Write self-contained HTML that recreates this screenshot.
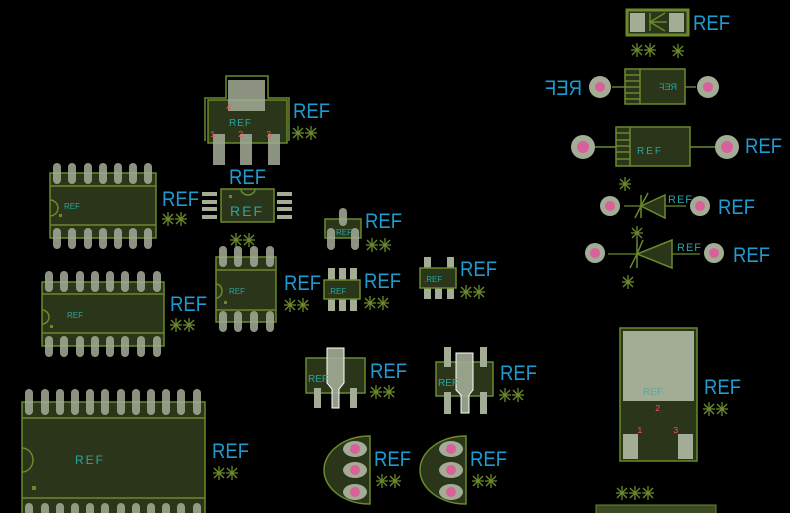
<!DOCTYPE html>
<html><head><meta charset="utf-8"><style>
html,body{margin:0;padding:0;background:#000;}
svg{display:block;}
.r{font-family:"Liberation Sans",sans-serif;font-size:21px;fill:#1e9bd0;}
.t{font-family:"Liberation Sans",sans-serif;fill:#2aa5a0;}
.n{font-family:"Liberation Mono",monospace;font-size:9px;fill:#ff4c5c;}
.b{fill:#2a3519;stroke:#6a8a2c;stroke-width:1.5;}
.o{fill:none;stroke:#6a8a2c;stroke-width:1.5;}
.p{fill:#a3ad96;fill-opacity:0.85;}
.pp{fill:#a3ad96;}
.k{fill:#d9609a;}
</style></head><body>
<svg width="790" height="513" viewBox="0 0 790 513" xmlns="http://www.w3.org/2000/svg">
<defs>
<g id="a" stroke="#6a8a2c" stroke-width="1.3">
<line x1="-6" y1="0" x2="6" y2="0"/><line x1="0" y1="-7" x2="0" y2="7"/>
<line x1="-5" y1="-5" x2="5" y2="5"/><line x1="-5" y1="5" x2="5" y2="-5"/>
</g>
<g id="aa"><use href="#a"/><use href="#a" x="13"/></g>
<rect id="dp" x="-4" y="0" width="8" height="21" rx="4" class="p"/>
<rect id="dq" x="-4" y="0" width="8" height="26" rx="4" class="p"/>
</defs>

<!-- DIP 14 top-left -->
<g>
<rect x="50" y="173" width="106" height="65" class="b"/>
<line x1="50" y1="186" x2="156" y2="186" stroke="#6a8a2c" stroke-width="1.5"/>
<line x1="50" y1="225" x2="156" y2="225" stroke="#6a8a2c" stroke-width="1.5"/>
<path d="M50 200 a8 8 0 0 1 0 16" class="o"/>
<rect x="59" y="214" width="3" height="3" fill="#6a8a2c"/>
<text x="64" y="209" class="t" font-size="8">REF</text>
<use href="#dp" x="57" y="163"/><use href="#dp" x="72" y="163"/><use href="#dp" x="88" y="163"/><use href="#dp" x="103" y="163"/><use href="#dp" x="118" y="163"/><use href="#dp" x="133" y="163"/><use href="#dp" x="148" y="163"/>
<use href="#dp" x="57" y="228"/><use href="#dp" x="72" y="228"/><use href="#dp" x="88" y="228"/><use href="#dp" x="103" y="228"/><use href="#dp" x="118" y="228"/><use href="#dp" x="133" y="228"/><use href="#dp" x="148" y="228"/>
<text x="162" y="206" class="r" textLength="37" lengthAdjust="spacingAndGlyphs">REF</text>
<use href="#aa" x="168" y="219"/>
</g>

<!-- DIP 16 -->
<g>
<rect x="42" y="282" width="122" height="64" class="b"/>
<line x1="42" y1="294" x2="164" y2="294" stroke="#6a8a2c" stroke-width="1.5"/>
<line x1="42" y1="333" x2="164" y2="333" stroke="#6a8a2c" stroke-width="1.5"/>
<path d="M42 310 a7 7 0 0 1 0 14" class="o"/>
<rect x="50" y="325" width="3" height="3" fill="#6a8a2c"/>
<text x="67" y="318" class="t" font-size="8">REF</text>
<use href="#dp" x="49" y="271"/><use href="#dp" x="64" y="271"/><use href="#dp" x="80" y="271"/><use href="#dp" x="95" y="271"/><use href="#dp" x="110" y="271"/><use href="#dp" x="125" y="271"/><use href="#dp" x="141" y="271"/><use href="#dp" x="157" y="271"/>
<use href="#dp" x="49" y="336"/><use href="#dp" x="64" y="336"/><use href="#dp" x="80" y="336"/><use href="#dp" x="95" y="336"/><use href="#dp" x="110" y="336"/><use href="#dp" x="125" y="336"/><use href="#dp" x="141" y="336"/><use href="#dp" x="157" y="336"/>
<text x="170" y="311" class="r" textLength="37" lengthAdjust="spacingAndGlyphs">REF</text>
<use href="#aa" x="176" y="325"/>
</g>

<!-- SOIC 8 -->
<g>
<rect x="221" y="189" width="53" height="33" class="b"/>
<path d="M241 189 a7 6 0 0 0 14 0" class="o"/>
<rect x="229" y="195" width="3" height="3" fill="#6a8a2c"/>
<text x="230" y="216" class="t" font-size="14" letter-spacing="2">REF</text>
<rect x="202" y="192" width="15" height="4" class="pp"/><rect x="202" y="200" width="15" height="4" class="pp"/><rect x="202" y="207" width="15" height="4" class="pp"/><rect x="202" y="215" width="15" height="4" class="pp"/>
<rect x="277" y="192" width="15" height="4" class="pp"/><rect x="277" y="200" width="15" height="4" class="pp"/><rect x="277" y="207" width="15" height="4" class="pp"/><rect x="277" y="215" width="15" height="4" class="pp"/>
<text x="229" y="184" class="r" textLength="37" lengthAdjust="spacingAndGlyphs">REF</text>
<use href="#aa" x="236" y="240"/>
</g>

<!-- DIP 8 -->
<g>
<rect x="216" y="257" width="60" height="65" class="b"/>
<line x1="216" y1="270" x2="276" y2="270" stroke="#6a8a2c" stroke-width="1.5"/>
<line x1="216" y1="310" x2="276" y2="310" stroke="#6a8a2c" stroke-width="1.5"/>
<path d="M216 284 a6 7 0 0 1 0 14" class="o"/>
<rect x="224" y="301" width="3" height="3" fill="#6a8a2c"/>
<text x="229" y="294" class="t" font-size="8">REF</text>
<use href="#dp" x="223" y="246"/><use href="#dp" x="238" y="246"/><use href="#dp" x="254" y="246"/><use href="#dp" x="270" y="246"/>
<use href="#dp" x="223" y="311"/><use href="#dp" x="238" y="311"/><use href="#dp" x="254" y="311"/><use href="#dp" x="270" y="311"/>
<text x="284" y="290" class="r" textLength="37" lengthAdjust="spacingAndGlyphs">REF</text>
<use href="#aa" x="290" y="305"/>
</g>

<!-- SOT-223 -->
<g>
<path d="M205 141 V98 H226 V76 H268 V98 H289 V141" class="o"/>
<rect x="208" y="100" width="79" height="43" class="b"/>
<rect x="228" y="80" width="37" height="31" class="p"/>
<rect x="213" y="134" width="12" height="31" class="p"/><rect x="240" y="134" width="12" height="31" class="p"/><rect x="268" y="134" width="12" height="31" class="p"/>
<text x="229" y="126" class="t" font-size="10" letter-spacing="1">REF</text>
<text x="226" y="110" class="n">4</text><text x="210" y="137" class="n">1</text><text x="238" y="137" class="n">2</text><text x="266" y="137" class="n">3</text>
<text x="293" y="118" class="r" textLength="37" lengthAdjust="spacingAndGlyphs">REF</text>
<use href="#aa" x="298" y="133"/>
</g>

<!-- SOT-23 -->
<g>
<rect x="325" y="219" width="36" height="19" class="b"/>
<rect x="339" y="208" width="8" height="18" rx="4" class="p"/>
<rect x="327" y="228" width="8" height="22" rx="4" class="p"/><rect x="351" y="228" width="8" height="22" rx="4" class="p"/>
<text x="336" y="235" class="t" font-size="8">REF</text>
<text x="365" y="228" class="r" textLength="37" lengthAdjust="spacingAndGlyphs">REF</text>
<use href="#aa" x="372" y="245"/>
</g>

<!-- SOT-23-6 -->
<g>
<rect x="328" y="268" width="7" height="12" class="pp"/><rect x="339" y="268" width="7" height="12" class="pp"/><rect x="350" y="268" width="7" height="12" class="pp"/>
<rect x="328" y="299" width="7" height="12" class="pp"/><rect x="339" y="299" width="7" height="12" class="pp"/><rect x="350" y="299" width="7" height="12" class="pp"/>
<rect x="324" y="280" width="36" height="19" class="b"/>
<text x="328" y="294" class="t" font-size="8">.REF</text>
<text x="364" y="288" class="r" textLength="37" lengthAdjust="spacingAndGlyphs">REF</text>
<use href="#aa" x="370" y="303"/>
</g>

<!-- SOT-23-5 -->
<g>
<rect x="424" y="257" width="7" height="12" class="pp"/><rect x="447" y="257" width="7" height="12" class="pp"/>
<rect x="424" y="288" width="7" height="11" class="pp"/><rect x="435" y="288" width="7" height="11" class="pp"/><rect x="447" y="288" width="7" height="11" class="pp"/>
<rect x="420" y="268" width="36" height="20" class="b"/>
<text x="424" y="282" class="t" font-size="8">.REF</text>
<text x="460" y="276" class="r" textLength="37" lengthAdjust="spacingAndGlyphs">REF</text>
<use href="#aa" x="466" y="292"/>
</g>

<!-- SOT-89 left -->
<g>
<rect x="306" y="358" width="59" height="35" class="b"/>
<rect x="314" y="388" width="7" height="20" class="pp"/><rect x="350" y="388" width="7" height="20" class="pp"/>
<path d="M327 348 H344 V383 L339 389 V408 H332 V389 L327 383 Z" fill="#a3ad96" fill-opacity="0.9" stroke="#fff" stroke-width="1"/>
<text x="308" y="382" class="t" font-size="10">REF</text>
<text x="370" y="378" class="r" textLength="37" lengthAdjust="spacingAndGlyphs">REF</text>
<use href="#aa" x="376" y="392"/>
</g>

<!-- SOT-89 right -->
<g>
<rect x="436" y="362" width="57" height="34" class="b"/>
<rect x="444" y="347" width="7" height="20" class="pp"/><rect x="480" y="347" width="7" height="20" class="pp"/>
<rect x="444" y="392" width="7" height="22" class="pp"/><rect x="480" y="392" width="7" height="22" class="pp"/>
<path d="M456 353 H473 V390 L469 395 V413 H461 V395 L456 390 Z" fill="#a3ad96" fill-opacity="0.9" stroke="#fff" stroke-width="1"/>
<text x="438" y="386" class="t" font-size="10">REF</text>
<text x="500" y="380" class="r" textLength="37" lengthAdjust="spacingAndGlyphs">REF</text>
<use href="#aa" x="505" y="395"/>
</g>

<!-- TO-92 left -->
<g>
<path d="M370 436 A46 34 0 0 0 370 504 Z" class="b"/>
<ellipse cx="355" cy="449" rx="12" ry="8" class="pp"/><circle cx="355" cy="449" r="5" class="k"/>
<ellipse cx="355" cy="470" rx="12" ry="8" class="pp"/><circle cx="355" cy="470" r="5" class="k"/>
<ellipse cx="355" cy="492" rx="12" ry="8" class="pp"/><circle cx="355" cy="492" r="5" class="k"/>
<text x="374" y="466" class="r" textLength="37" lengthAdjust="spacingAndGlyphs">REF</text>
<use href="#aa" x="382" y="481"/>
</g>
<!-- TO-92 right -->
<g>
<path d="M466 436 A46 34 0 0 0 466 504 Z" class="b"/>
<ellipse cx="451" cy="449" rx="12" ry="8" class="pp"/><circle cx="451" cy="449" r="5" class="k"/>
<ellipse cx="451" cy="470" rx="12" ry="8" class="pp"/><circle cx="451" cy="470" r="5" class="k"/>
<ellipse cx="451" cy="492" rx="12" ry="8" class="pp"/><circle cx="451" cy="492" r="5" class="k"/>
<text x="470" y="466" class="r" textLength="37" lengthAdjust="spacingAndGlyphs">REF</text>
<use href="#aa" x="478" y="481"/>
</g>

<!-- big DIP bottom -->
<g>
<rect x="22" y="402" width="183" height="120" class="b"/>
<line x1="22" y1="418" x2="205" y2="418" stroke="#6a8a2c" stroke-width="1.5"/>
<line x1="22" y1="498" x2="205" y2="498" stroke="#6a8a2c" stroke-width="1.5"/>
<path d="M22 448 a11 12 0 0 1 0 24" class="o"/>
<rect x="32" y="486" width="4" height="4" fill="#6a8a2c"/>
<text x="75" y="464" class="t" font-size="12" letter-spacing="2">REF</text>
<use href="#dq" x="29" y="389"/><use href="#dq" x="45" y="389"/><use href="#dq" x="60" y="389"/><use href="#dq" x="75" y="389"/><use href="#dq" x="90" y="389"/><use href="#dq" x="105" y="389"/><use href="#dq" x="121" y="389"/><use href="#dq" x="136" y="389"/><use href="#dq" x="151" y="389"/><use href="#dq" x="166" y="389"/><use href="#dq" x="181" y="389"/><use href="#dq" x="197" y="389"/>
<use href="#dq" x="29" y="503"/><use href="#dq" x="45" y="503"/><use href="#dq" x="60" y="503"/><use href="#dq" x="75" y="503"/><use href="#dq" x="90" y="503"/><use href="#dq" x="105" y="503"/><use href="#dq" x="121" y="503"/><use href="#dq" x="136" y="503"/><use href="#dq" x="151" y="503"/><use href="#dq" x="166" y="503"/><use href="#dq" x="181" y="503"/><use href="#dq" x="197" y="503"/>
<text x="212" y="458" class="r" textLength="37" lengthAdjust="spacingAndGlyphs">REF</text>
<use href="#aa" x="219" y="473"/>
</g>

<!-- top right diode SMD -->
<g>
<rect x="627" y="10" width="61" height="25" fill="#2a3519" stroke="#6a8a2c" stroke-width="3"/>
<rect x="630" y="13" width="15" height="19" class="pp"/><rect x="669" y="13" width="15" height="19" class="pp"/>
<path d="M649 22 H667 M665 13 L650 22 L665 31 M650 13 V31" class="o" stroke-width="1"/>
<text x="693" y="30" class="r" textLength="37" lengthAdjust="spacingAndGlyphs">REF</text>
<use href="#aa" x="637" y="50"/><use href="#a" x="678" y="51"/>
</g>

<!-- mirrored component -->
<g>
<line x1="612" y1="87" x2="625" y2="87" stroke="#4a6020" stroke-width="2"/>
<line x1="685" y1="87" x2="696" y2="87" stroke="#4a6020" stroke-width="2"/>
<rect x="625" y="69" width="60" height="35" class="b"/>
<path d="M640 69 V104 M625 75 H640 M625 81 H640 M625 87 H640 M625 93 H640 M625 99 H640" class="o" stroke-width="1"/>
<circle cx="600" cy="87" r="11" class="pp"/><circle cx="600" cy="87" r="5" class="k"/>
<circle cx="708" cy="87" r="11" class="pp"/><circle cx="708" cy="87" r="5" class="k"/>
<text transform="translate(677,90) scale(-1,1)" class="t" font-size="9">REF</text>
<text transform="translate(582,95) scale(-1,1)" class="r" textLength="37" lengthAdjust="spacingAndGlyphs">REF</text>
</g>

<!-- component 3 -->
<g>
<line x1="595" y1="147" x2="616" y2="147" stroke="#6a8a2c" stroke-width="1.5"/>
<line x1="690" y1="147" x2="716" y2="147" stroke="#6a8a2c" stroke-width="1.5"/>
<rect x="616" y="127" width="74" height="39" class="b"/>
<path d="M630 127 V166 M616 133 H630 M616 140 H630 M616 146 H630 M616 152 H630 M616 159 H630" class="o" stroke-width="1"/>
<circle cx="583" cy="147" r="12" class="pp"/><circle cx="583" cy="147" r="6" class="k"/>
<circle cx="727" cy="147" r="12" class="pp"/><circle cx="727" cy="147" r="6" class="k"/>
<text x="637" y="154" class="t" font-size="10" letter-spacing="2">REF</text>
<text x="745" y="153" class="r" textLength="37" lengthAdjust="spacingAndGlyphs">REF</text>
</g>

<!-- diode small -->
<g>
<line x1="624" y1="206" x2="686" y2="206" stroke="#6a8a2c" stroke-width="1.2"/>
<path d="M665 195 V218 L641 206 Z" class="b" stroke-width="1"/>
<path d="M641 195 V218 M641 206 L648 193 M641 206 L635 218" class="o" stroke-width="1"/>
<circle cx="610" cy="206" r="10" class="pp"/><circle cx="610" cy="206" r="5" class="k"/>
<circle cx="700" cy="206" r="10" class="pp"/><circle cx="700" cy="206" r="5" class="k"/>
<text x="668" y="203" class="t" font-size="11" letter-spacing="1">REF</text>
<text x="718" y="214" class="r" textLength="37" lengthAdjust="spacingAndGlyphs">REF</text>
<use href="#a" x="625" y="184"/>
</g>

<!-- diode big -->
<g>
<line x1="608" y1="254" x2="700" y2="254" stroke="#6a8a2c" stroke-width="1.2"/>
<path d="M672 240 V268 L637 254 Z" class="b" stroke-width="1"/>
<path d="M637 240 V268 M637 254 L643 240 M637 254 L630 268" class="o" stroke-width="1"/>
<circle cx="595" cy="253" r="10" class="pp"/><circle cx="595" cy="253" r="5" class="k"/>
<circle cx="714" cy="253" r="10" class="pp"/><circle cx="714" cy="253" r="5" class="k"/>
<text x="677" y="251" class="t" font-size="11" letter-spacing="1">REF</text>
<text x="733" y="262" class="r" textLength="37" lengthAdjust="spacingAndGlyphs">REF</text>
<use href="#a" x="637" y="233"/><use href="#a" x="628" y="282"/>
</g>

<!-- TO-252 -->
<g>
<rect x="620" y="328" width="77" height="133" class="b"/>
<rect x="623" y="331" width="71" height="70" class="pp"/>
<rect x="623" y="434" width="15" height="25" class="pp"/><rect x="678" y="434" width="15" height="25" class="pp"/>
<text x="643" y="395" class="t" font-size="10" fill-opacity="0.6">REF</text>
<text x="655" y="411" class="n">2</text><text x="637" y="433" class="n">1</text><text x="673" y="433" class="n">3</text>
<text x="704" y="394" class="r" textLength="37" lengthAdjust="spacingAndGlyphs">REF</text>
<use href="#aa" x="709" y="409"/>
</g>

<!-- bottom right -->
<use href="#aa" x="622" y="493"/><use href="#a" x="648" y="493"/>
<rect x="596" y="505" width="120" height="10" fill="#3a4a22" stroke="#6a8a2c" stroke-width="1"/>
</svg>
</body></html>
